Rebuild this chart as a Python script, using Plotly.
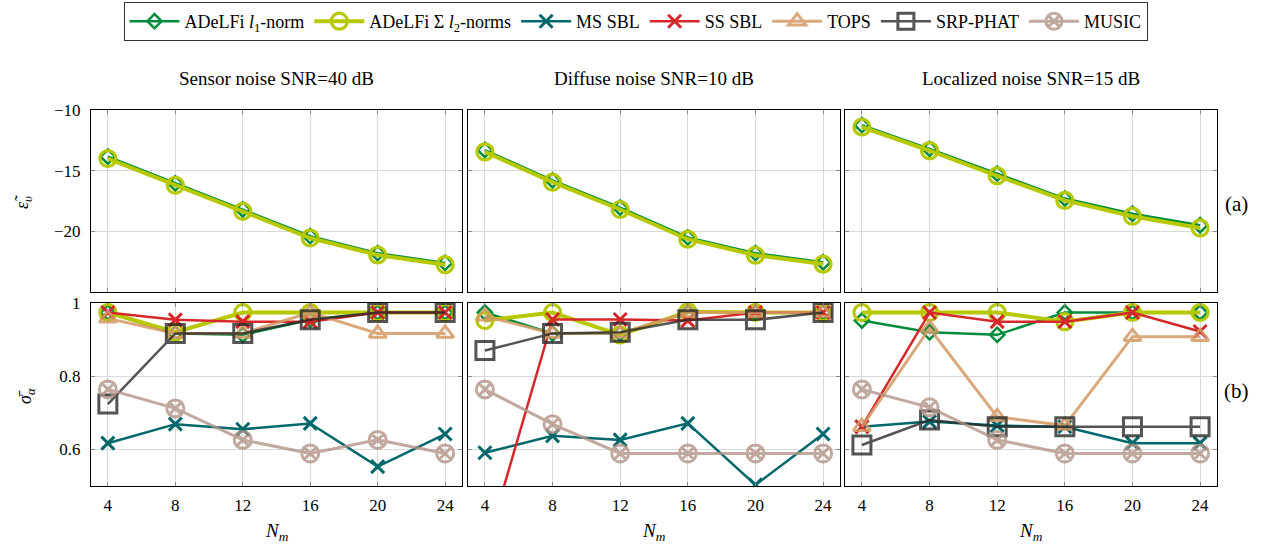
import plotly.graph_objects as go

# ---------------- data ----------------
Nm = [4, 8, 12, 16, 20, 24]
scenario_titles = ["Sensor noise SNR=40 dB", "Diffuse noise SNR=10 dB", "Localized noise SNR=15 dB"]
method_names = ["ADeLFi <i>l</i><sub>1</sub>-norm", "ADeLFi Σ <i>l</i><sub>2</sub>-norms",
                "MS SBL", "SS SBL", "TOPS", "SRP-PHAT", "MUSIC"]

# (a) velocity error, ADeLFi methods only
eps_sensor_l1 = [-13.85, -16.05, -18.2, -20.4, -21.8, -22.6]
eps_sensor_l2 = [-14.0, -16.2, -18.35, -20.55, -21.95, -22.75]
eps_diffuse_l1 = [-13.3, -15.8, -18.05, -20.5, -21.8, -22.55]
eps_diffuse_l2 = [-13.45, -15.95, -18.2, -20.65, -21.97, -22.7]
eps_local_l1 = [-11.25, -13.2, -15.25, -17.3, -18.55, -19.5]
eps_local_l2 = [-11.4, -13.35, -15.42, -17.45, -18.75, -19.72]

# (b) sigma_alpha per method
sig_sensor_l1 = [0.974, 0.917, 0.913, 0.954, 0.974, 0.974]
sig_sensor_l2 = [0.974, 0.920, 0.974, 0.974, 0.974, 0.974]
sig_sensor_ms = [0.617, 0.669, 0.655, 0.671, 0.553, 0.642]
sig_sensor_ss = [0.974, 0.954, 0.949, 0.949, 0.974, 0.974]
sig_sensor_tops = [0.958, 0.917, 0.917, 0.974, 0.917, 0.917]
sig_sensor_srp = [0.724, 0.917, 0.917, 0.954, 0.974, 0.974]
sig_sensor_music = [0.764, 0.712, 0.626, 0.589, 0.626, 0.589]

sig_diffuse_l1 = [0.974, 0.917, 0.917, 0.974, 0.974, 0.974]
sig_diffuse_l2 = [0.952, 0.974, 0.913, 0.976, 0.974, 0.974]
sig_diffuse_ms = [0.591, 0.637, 0.626, 0.671, 0.503, 0.642]
sig_diffuse_ss = [0.32, 0.955, 0.955, 0.952, 0.974, 0.974]
sig_diffuse_tops = [0.964, 0.917, 0.917, 0.974, 0.974, 0.974]
sig_diffuse_srp = [0.870, 0.917, 0.920, 0.954, 0.954, 0.974]
sig_diffuse_music = [0.764, 0.669, 0.589, 0.589, 0.589, 0.589]

sig_local_l1 = [0.952, 0.920, 0.913, 0.974, 0.974, 0.974]
sig_local_l2 = [0.974, 0.974, 0.974, 0.949, 0.974, 0.974]
sig_local_ms = [0.662, 0.676, 0.665, 0.662, 0.617, 0.617]
sig_local_ss = [0.662, 0.974, 0.949, 0.949, 0.974, 0.922]
sig_local_tops = [0.662, 0.931, 0.689, 0.665, 0.908, 0.908]
sig_local_srp = [0.612, 0.680, 0.662, 0.662, 0.662, 0.662]
sig_local_music = [0.764, 0.715, 0.626, 0.589, 0.589, 0.589]

eps_data = [[eps_sensor_l1, eps_sensor_l2], [eps_diffuse_l1, eps_diffuse_l2], [eps_local_l1, eps_local_l2]]
sig_data = [
    [sig_sensor_l1, sig_sensor_l2, sig_sensor_ms, sig_sensor_ss, sig_sensor_tops, sig_sensor_srp, sig_sensor_music],
    [sig_diffuse_l1, sig_diffuse_l2, sig_diffuse_ms, sig_diffuse_ss, sig_diffuse_tops, sig_diffuse_srp, sig_diffuse_music],
    [sig_local_l1, sig_local_l2, sig_local_ms, sig_local_ss, sig_local_tops, sig_local_srp, sig_local_music],
]

# ---------------- styles ----------------
styles = [
    dict(color="#008c3c", symbol="diamond-open", size=11, lw=2.5, mlw=2.5, op=1.0),
    dict(color="#b6c800", symbol="circle-open", size=16, lw=4, mlw=3.2, op=1.0),
    dict(color="#00676b", symbol="x-thin-open", size=13, lw=2.5, mlw=3, op=1.0),
    dict(color="#d6282b", symbol="x-thin-open", size=13, lw=2.5, mlw=3, op=1.0),
    dict(color="#d49a64", symbol="triangle-up-open", size=15, lw=3, mlw=3, op=0.85),
    dict(color="#2a2a2a", symbol="square-open", size=18, lw=2.5, mlw=3, op=0.8),
    dict(color="#b39488", symbol="circle-x-open", size=17, lw=3, mlw=3, op=0.8),
]

W, H = 1266, 548
FONT = "Liberation Serif, Times New Roman, Times, DejaVu Serif, serif"
xdoms = [(91, 462), (468, 840), (845, 1217)]
ytop = (110, 292)
ybot = (303, 486)


def px2x(a, b):
    return [a / W, b / W]


def px2y(a, b):
    return [1 - b / H, 1 - a / H]


fig = go.Figure()

# top row: axes 1..3 ; bottom row: axes 4..6
for c in range(3):
    ax = c + 1
    for k in range(2):
        s = styles[k]
        fig.add_trace(go.Scatter(
            x=Nm, y=eps_data[c][k], mode="lines+markers", name=method_names[k],
            legendgroup=str(k), showlegend=False, opacity=s["op"],
            line=dict(color=s["color"], width=s["lw"]),
            marker=dict(symbol=s["symbol"], size=s["size"], color=s["color"],
                        line=dict(color=s["color"], width=s["mlw"])),
            xaxis="x" if ax == 1 else f"x{ax}", yaxis="y" if ax == 1 else f"y{ax}"))
for c in range(3):
    ax = c + 4
    for k in range(7):
        s = styles[k]
        fig.add_trace(go.Scatter(
            x=Nm, y=sig_data[c][k], mode="lines+markers", name=method_names[k],
            legendgroup=str(k), showlegend=(c == 0), opacity=s["op"],
            line=dict(color=s["color"], width=s["lw"]),
            marker=dict(symbol=s["symbol"], size=s["size"], color=s["color"],
                        line=dict(color=s["color"], width=s["mlw"])),
            xaxis=f"x{ax}", yaxis=f"y{ax}"))

axcommon = dict(showline=True, linecolor="black", linewidth=1, mirror="ticks",
                ticks="inside", ticklen=4, tickcolor="#888888", tickwidth=1,
                showgrid=True, gridcolor="#d9d9d9", gridwidth=1, zeroline=False,
                automargin=False,
                tickfont=dict(family=FONT, size=17, color="black"))

layout = {}
for i in range(6):
    ax = i + 1
    c = i % 3
    top = i < 3
    xname = "xaxis" if ax == 1 else f"xaxis{ax}"
    yname = "yaxis" if ax == 1 else f"yaxis{ax}"
    layout[xname] = dict(axcommon, domain=px2x(*xdoms[c]), range=[3, 25], tickvals=Nm,
                         showticklabels=not top, ticklabelstandoff=4,
                         anchor="y" if ax == 1 else f"y{ax}")
    if top:
        ydict = dict(range=[-25, -10], tickvals=[-20, -15, -10], domain=px2y(*ytop))
    else:
        ydict = dict(range=[0.5, 1.0], tickvals=[0.6, 0.8, 1.0], ticktext=["0.6", "0.8", "1"],
                     domain=px2y(*ybot))
    layout[yname] = dict(axcommon, **ydict, showticklabels=(c == 0), ticklabelstandoff=6,
                         anchor="x" if ax == 1 else f"x{ax}")

fig.update_layout(**layout)

ann = []
for c in range(3):
    xc = (xdoms[c][0] + xdoms[c][1]) / 2 / W
    ann.append(dict(text=scenario_titles[c], x=xc, y=1 - 78 / H, xref="paper", yref="paper",
                    xanchor="center", yanchor="middle",
                    showarrow=False, font=dict(family=FONT, size=19, color="black")))
    ann.append(dict(text="<i>N</i><sub><i>m</i></sub>", x=xc, y=1 - 532 / H, xref="paper", yref="paper",
                    xanchor="center", yanchor="middle",
                    showarrow=False, font=dict(family=FONT, size=19, color="black")))
ann.append(dict(text="<i>ε̃</i><sub><i>υ</i></sub>", x=24 / W, y=1 - 202 / H, xref="paper", yref="paper",
                xanchor="center", yanchor="middle",
                textangle=-90, showarrow=False, font=dict(family=FONT, size=18, color="black")))
ann.append(dict(text="<i>σ̄</i><sub><i>α</i></sub>", x=26 / W, y=1 - 396 / H, xref="paper", yref="paper",
                xanchor="center", yanchor="middle",
                textangle=-90, showarrow=False, font=dict(family=FONT, size=18, color="black")))
ann.append(dict(text="(a)", x=1236 / W, y=1 - 204 / H, xref="paper", yref="paper",
                xanchor="center", yanchor="middle",
                showarrow=False, font=dict(family=FONT, size=21, color="black")))
ann.append(dict(text="(b)", x=1236 / W, y=1 - 391 / H, xref="paper", yref="paper",
                xanchor="center", yanchor="middle",
                showarrow=False, font=dict(family=FONT, size=21, color="black")))

fig.update_layout(
    width=W, height=H, margin=dict(l=0, r=0, t=0, b=0),
    paper_bgcolor="white", plot_bgcolor="white",
    font=dict(family=FONT, size=16, color="black"),
    annotations=ann,
    legend=dict(orientation="h", x=(115 + 1156) / 2 / W, xanchor="center", y=1 - 2 / H, yanchor="top",
                bordercolor="#333333", borderwidth=1, bgcolor="white",
                font=dict(family=FONT, size=18, color="black"), itemwidth=50,
                traceorder="normal"),
)

fig.write_html("out.html", config={"displayModeBar": False},
               post_script="document.body.style.margin='0px';document.body.style.padding='0px';")
